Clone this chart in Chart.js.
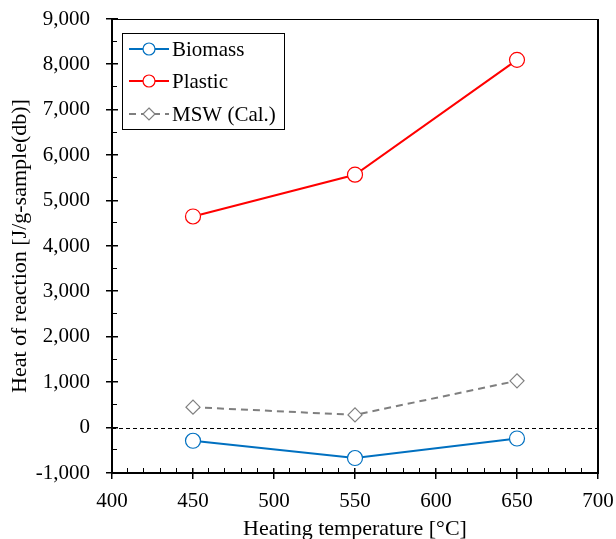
<!DOCTYPE html>
<html><head><meta charset="utf-8">
<script src="https://cdn.jsdelivr.net/npm/chart.js@4/dist/chart.umd.min.js"></script>
<style>html,body{margin:0;padding:0;background:#fff;overflow:hidden}#wrap{width:616px;height:539px}</style>
</head><body><div id="wrap"><canvas id="c" width="616" height="539"></canvas></div>
<script>
const temperatures = [450, 550, 650];
const biomass = [-290, -670, -240];
const plastic = [4650, 5570, 8100];
const msw = [450, 280, 1030];
const seriesNames = ['Biomass', 'Plastic', 'MSW (Cal.)'];
const xTitle = 'Heating temperature [°C]';
const yTitle = 'Heat of reaction [J/g-sample(db)]';

const FONT = "'Liberation Serif', 'Times New Roman', serif";

const toPts = (vals) => temperatures.map((t, i) => ({x: t, y: vals[i]}));

const decor = {
  id: 'decor',
  beforeDatasetsDraw(chart) {
    const {ctx, chartArea: a, scales: {y}} = chart;
    ctx.save();
    const y0 = Math.round(y.getPixelForValue(0)) + 0.5;
    ctx.strokeStyle = '#000'; ctx.lineWidth = 1; ctx.setLineDash([4, 3]);
    ctx.beginPath(); ctx.moveTo(a.left, y0); ctx.lineTo(a.right, y0); ctx.stroke();
    ctx.restore();
  },
  afterDraw(chart) {
    const {ctx, chartArea: a, scales: {x, y}} = chart;
    const L = Math.round(a.left), R = Math.round(a.right), T = Math.round(a.top), B = Math.round(a.bottom);
    ctx.save();
    ctx.setLineDash([]);
    ctx.fillStyle = '#000';
    ctx.fillRect(L - 1, T, 2, B - T + 1);
    ctx.fillRect(L - 1, B - 1, R - L + 2, 2);
    ctx.fillRect(L, T, R - L + 1, 1);
    ctx.fillRect(R - 1, T, 2, B - T);
    for (let v = 400; v <= 700; v += 10) {
      const px = Math.round(x.getPixelForValue(v));
      if (v % 50 === 0) ctx.fillRect(px - 1, B - 5, 1.5, 11);
      else ctx.fillRect(px - 1, B - 5, 1, 5);
    }
    for (let v = -1000; v <= 9000; v += 500) {
      const py = Math.round(y.getPixelForValue(v));
      if (v % 1000 === 0) ctx.fillRect(L - 6, py - 1, 12, 1.5);
      else ctx.fillRect(L, py - 1, 5, 1);
    }
    const lx = 122, ly = 33, lw = 162, lh = 96;
    ctx.fillStyle = '#fff'; ctx.fillRect(lx, ly, lw, lh);
    ctx.strokeStyle = '#000'; ctx.lineWidth = 1;
    ctx.strokeRect(lx + 0.5, ly + 0.5, lw, lh);
    const rows = [49, 81, 114];
    chart.data.datasets.forEach((ds, i) => {
      const ry = rows[i];
      ctx.strokeStyle = ds.borderColor; ctx.lineWidth = ds.borderWidth;
      ctx.setLineDash(ds.borderDash || []);
      ctx.beginPath(); ctx.moveTo(129, ry); ctx.lineTo(169, ry); ctx.stroke();
      ctx.setLineDash([]);
      ctx.fillStyle = '#fff'; ctx.lineWidth = 1.2; ctx.strokeStyle = ds.pointBorderColor;
      ctx.beginPath();
      if (ds.pointStyle === 'rectRot') {
        const r = 6;
        ctx.moveTo(149, ry - r); ctx.lineTo(149 + r, ry); ctx.lineTo(149, ry + r); ctx.lineTo(149 - r, ry); ctx.closePath();
      } else {
        ctx.arc(149, ry, 6, 0, Math.PI * 2);
      }
      ctx.fill(); ctx.stroke();
      ctx.fillStyle = '#000'; ctx.font = '21px ' + FONT; ctx.textBaseline = 'middle'; ctx.textAlign = 'left';
      ctx.fillText(ds.label, 172, ry + 1);
    });
    ctx.restore();
  }
};

new Chart(document.getElementById('c'), {
  type: 'line',
  data: {
    datasets: [
      {label: seriesNames[0], data: toPts(biomass), borderColor: '#0070C0', borderWidth: 2,
       pointStyle: 'circle', pointRadius: 7.5, pointBorderWidth: 1.2, pointBackgroundColor: '#fff', pointBorderColor: '#0070C0'},
      {label: seriesNames[1], data: toPts(plastic), borderColor: '#FF0000', borderWidth: 2,
       pointStyle: 'circle', pointRadius: 7.5, pointBorderWidth: 1.2, pointBackgroundColor: '#fff', pointBorderColor: '#FF0000'},
      {label: seriesNames[2], data: toPts(msw), borderColor: '#7F7F7F', borderWidth: 2, borderDash: [7, 5],
       pointStyle: 'rectRot', pointRadius: 7, pointBorderWidth: 1.2, pointBackgroundColor: '#fff', pointBorderColor: '#7F7F7F'}
    ]
  },
  options: {
    responsive: false, animation: false, devicePixelRatio: 1,
    layout: {padding: {top: 19, right: 18, left: 0, bottom: 0}},
    plugins: {legend: {display: false}, tooltip: {enabled: false}},
    scales: {
      x: {
        type: 'linear', min: 400, max: 700,
        grid: {display: false, drawTicks: false}, border: {display: false},
        ticks: {stepSize: 50, color: '#000', font: {family: FONT, size: 21}, padding: 16, maxRotation: 0},
        title: {display: true, text: xTitle, color: '#000', font: {family: FONT, size: 22, lineHeight: 0.9}, padding: {top: 0, bottom: 0}},
        afterFit(s) { s.height = 66; s.paddingLeft = 0; s.paddingRight = 0; s.paddingTop = 0; s.paddingBottom = 0; }
      },
      y: {
        type: 'linear', min: -1000, max: 9000,
        grid: {display: false, drawTicks: false}, border: {display: false},
        ticks: {stepSize: 1000, color: '#000', font: {family: FONT, size: 21}, padding: 22,
                callback: (v) => v.toLocaleString('en-US')},
        title: {display: true, text: yTitle, color: '#000', font: {family: FONT, size: 22}, padding: {top: 7, bottom: 0}},
        afterFit(s) { s.width = 112; s.paddingLeft = 0; s.paddingRight = 0; s.paddingTop = 0; s.paddingBottom = 0; }
      }
    }
  },
  plugins: [decor]
});
</script></body></html>
